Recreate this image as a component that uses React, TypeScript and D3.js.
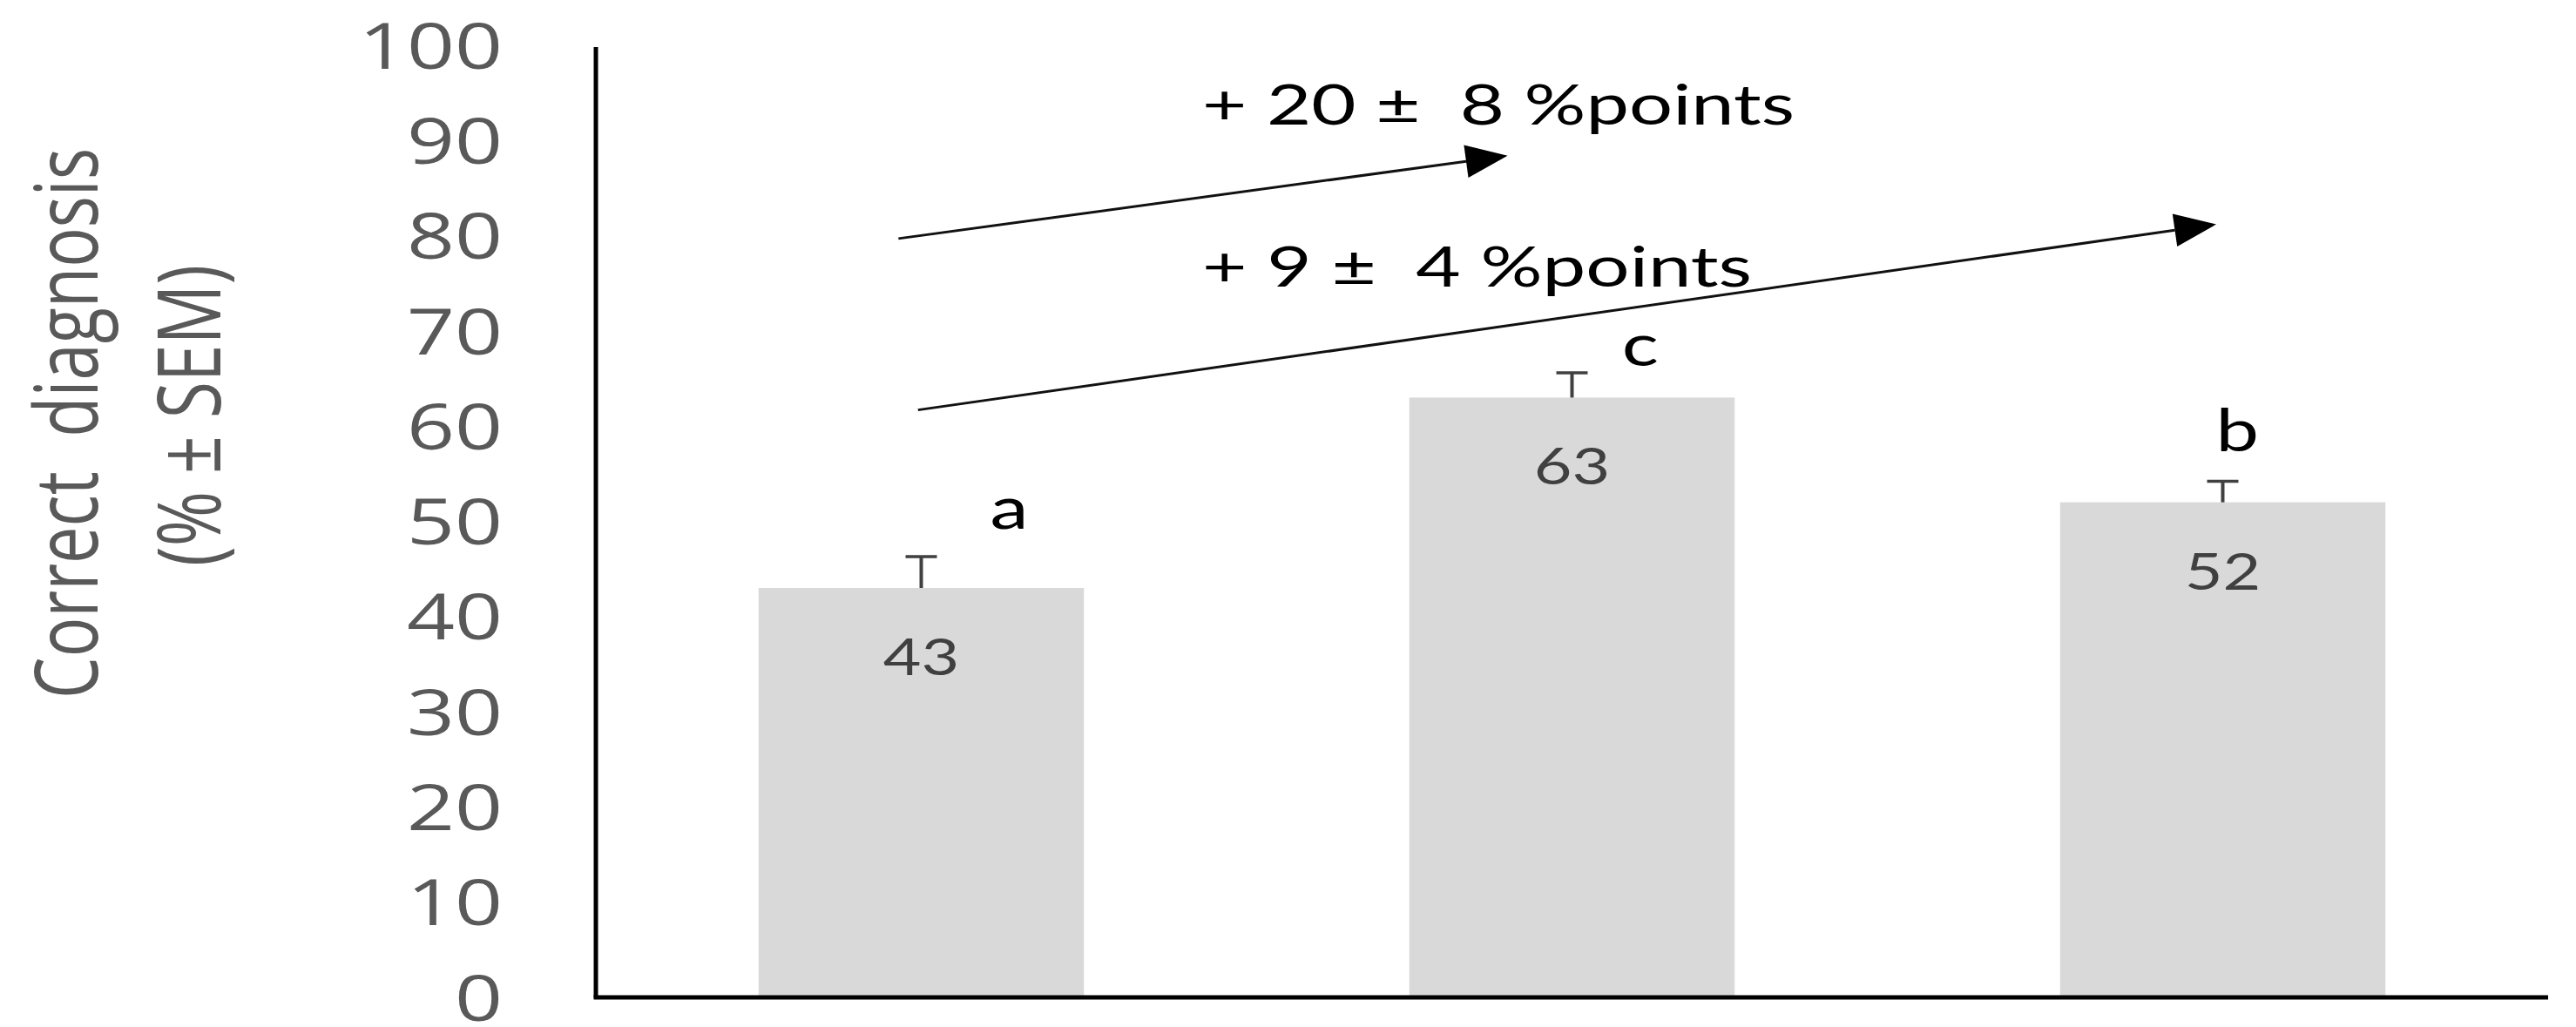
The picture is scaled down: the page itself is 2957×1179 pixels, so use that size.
import React, { useEffect, useRef } from "react";
import * as d3 from "d3";

const W = 2957;
const H = 1179;

// three groups, no x labels in the original
const groups = ["g1", "g2", "g3"];
const means = [43, 63, 52];
const sems = [3.3, 2.6, 2.2];
const letters = ["a", "c", "b"];
const letterLevels = [49.2, 66.3, 57.4];
const letterShift = [0.27, 0.21, 0.045];
const yTicks = [0, 10, 20, 30, 40, 50, 60, 70, 80, 90, 100];

// difference arrows (x as fraction of plot width, y in % units)
const deltaLabels = ["+ 20 ±  8 %points", "+ 9 ±  4 %points"];
const deltaLabelLevels = [91.7, 74.7];
const deltaLabelWidths = [680, 631];
const arrowFrom = [[0.155, 79.7], [0.165, 61.7]];
const arrowTo = [[0.467, 88.4], [0.83, 81.2]];

const SX = 1.3; // the original is stretched sideways

export default function App() {
  const ref = useRef<SVGSVGElement>(null);

  useEffect(() => {
    const svg = d3.select(ref.current);
    svg.selectAll("*").remove();

    const left = 684, right = 2925, top = 52, bottom = 1145;
    const y = d3.scaleLinear().domain([0, 100]).range([bottom, top]);
    const x = d3.scaleBand().domain(groups).range([left, right]).paddingInner(0.5).paddingOuter(0.25);
    const fx = d3.scaleLinear().domain([0, 1]).range([left, right]);

    svg.append("rect").attr("width", W).attr("height", H).attr("fill", "#fff");

    // bars
    svg.selectAll("rect.bar")
      .data(means)
      .enter()
      .append("rect")
      .attr("class", "bar")
      .attr("x", (d, i) => x(groups[i])!)
      .attr("width", x.bandwidth())
      .attr("y", (d) => y(d))
      .attr("height", (d) => y(0) - y(d))
      .attr("fill", "#d9d9d9");

    // error bars (upper only)
    const eb = svg.append("g").attr("stroke", "#404040");
    means.forEach((m, i) => {
      const cx = x(groups[i])! + x.bandwidth() / 2;
      eb.append("line").attr("x1", cx).attr("x2", cx).attr("y1", y(m)).attr("y2", y(m + sems[i])).attr("stroke-width", 4);
      eb.append("line").attr("x1", cx - 18).attr("x2", cx + 18).attr("y1", y(m + sems[i])).attr("y2", y(m + sems[i])).attr("stroke-width", 3.5);
    });

    // value labels inside bars
    svg.selectAll("text.val")
      .data(means)
      .enter()
      .append("text")
      .attr("class", "val")
      .attr("transform", (d, i) => `translate(${x(groups[i])! + x.bandwidth() / 2},${y(d) + 100}) scale(${SX},1)`)
      .attr("text-anchor", "middle")
      .style("font-family", "Lato")
      .style("font-size", "58px")
      .attr("fill", "#404040")
      .text((d) => d);

    // significance letters
    svg.selectAll("text.letter")
      .data(letters)
      .enter()
      .append("text")
      .attr("class", "letter")
      .attr("transform", (d, i) => `translate(${x(groups[i])! + x.bandwidth() / 2 + letterShift[i] * x.bandwidth()},${y(letterLevels[i])}) scale(${SX},1)`)
      .attr("text-anchor", "middle")
      .style("font-family", "Lato")
      .style("font-size", "68px")
      .attr("fill", "#000")
      .text((d) => d);

    // axes
    svg.append("line").attr("x1", left).attr("x2", left).attr("y1", top + 2).attr("y2", bottom)
      .attr("stroke", "#000").attr("stroke-width", 5);
    svg.append("line").attr("x1", left - 2.5).attr("x2", right).attr("y1", bottom).attr("y2", bottom)
      .attr("stroke", "#000").attr("stroke-width", 5);

    const ticks = svg.append("g");
    ticks.selectAll("text")
      .data(yTicks)
      .enter()
      .append("text")
      .attr("transform", (d) => `translate(${left - 107},${y(d)}) scale(${SX},1)`)
      .attr("dy", "0.36em")
      .attr("text-anchor", "end")
      .style("font-family", "Open Sans")
      .style("font-size", "74px")
      .attr("fill", "#595959")
      .text((d) => d);

    // y title
    const titles = [
      { t: "Correct  diagnosis", bx: 112, cy: 486, len: 632 },
      { t: "(% ± SEM)", bx: 253, cy: 477, len: 346 },
    ];
    titles.forEach((d) => {
      svg.append("text")
        .attr("transform", `translate(${d.bx},${d.cy}) scale(${SX},1) rotate(-90)`)
        .attr("text-anchor", "middle")
        .attr("textLength", d.len)
        .attr("lengthAdjust", "spacingAndGlyphs")
        .style("white-space", "pre")
        .style("font-family", "Open Sans")
        .style("font-size", "77px")
        .attr("fill", "#595959")
        .text(d.t);
    });

    // arrows
    const ag = svg.append("g");
    arrowFrom.forEach((s, i) => {
      const x1 = fx(s[0]), y1 = y(s[1]);
      const x2 = fx(arrowTo[i][0]), y2 = y(arrowTo[i][1]);
      const a = Math.atan2(y2 - y1, x2 - x1);
      const L = 48, hw = 19;
      const bx = x2 - L * Math.cos(a), by = y2 - L * Math.sin(a);
      ag.append("line").attr("x1", x1).attr("y1", y1).attr("x2", bx).attr("y2", by)
        .attr("stroke", "#111").attr("stroke-width", 3);
      const pts = [
        [x2, y2],
        [bx - hw * Math.sin(a), by + hw * Math.cos(a)],
        [bx + hw * Math.sin(a), by - hw * Math.cos(a)],
      ];
      ag.append("polygon").attr("points", pts.map((p) => p.join(",")).join(" ")).attr("fill", "#000");
    });

    svg.selectAll("text.delta")
      .data(deltaLabels)
      .enter()
      .append("text")
      .attr("class", "delta")
      .attr("x", fx(0.3106))
      .attr("y", (d, i) => y(deltaLabelLevels[i]))
      .attr("textLength", (d, i) => deltaLabelWidths[i])
      .attr("lengthAdjust", "spacingAndGlyphs")
      .style("white-space", "pre")
      .style("font-family", "Lato")
      .style("font-size", "64px")
      .attr("fill", "#000")
      .text((d) => d);
  }, []);

  return (
    <svg
      ref={ref}
      width={W}
      height={H}
      style={{ position: "absolute", left: 0, top: 0, display: "block" }}
    />
  );
}
